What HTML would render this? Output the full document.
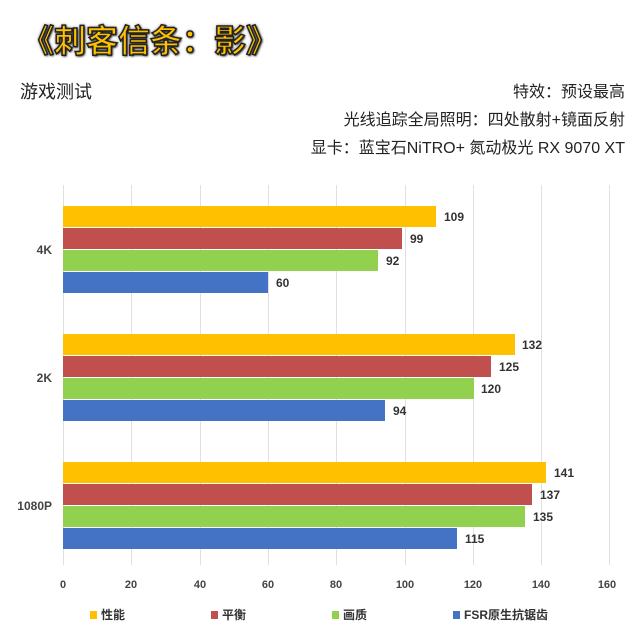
<!DOCTYPE html>
<html><head><meta charset="utf-8"><style>
body{margin:0;width:637px;height:636px;background:#fff;overflow:hidden;position:relative;font-family:"Liberation Sans","Noto Sans CJK SC",sans-serif;}
.a{position:absolute;white-space:nowrap}
.t{left:22px;top:16px;font-size:32px;font-weight:bold;color:#FFC000;-webkit-text-stroke:1.5px #222;text-shadow:0 0 3px #333,1px 1px 2px #000;letter-spacing:0px}
.s{font-size:16px;color:#222}
.r{right:12px;text-align:right}
.g{position:absolute;top:185px;height:380px;width:1px;background:#e0e0e0}
.b{position:absolute;left:63px;height:21px}
.v{position:absolute;font-size:12px;font-weight:bold;color:#333}
.tk{position:absolute;top:579px;font-size:11px;color:#444;font-weight:bold;width:30px;margin-left:-15px;text-align:center}
.cat{position:absolute;font-size:12px;font-weight:bold;color:#444;right:585px}
.lg{position:absolute;top:606px;font-size:12px;font-weight:bold;color:#333}
.lg i{display:inline-block;width:7px;height:8px;margin-right:4px;vertical-align:0}
</style></head><body>
<div class="a t">《刺客信条：影》</div>
<div class="a s" style="left:20px;top:78px;font-size:18px">游戏测试</div>
<div class="a s r" style="top:78px">特效：预设最高</div>
<div class="a s r" style="top:106px">光线追踪全局照明：四处散射+镜面反射</div>
<div class="a s r" style="top:134px">显卡：蓝宝石NiTRO+ 氮动极光 RX 9070 XT</div>
<div class="g" style="left:63px"></div><div class="g" style="left:131px"></div><div class="g" style="left:200px"></div><div class="g" style="left:268px"></div><div class="g" style="left:336px"></div><div class="g" style="left:405px"></div><div class="g" style="left:473px"></div><div class="g" style="left:541px"></div><div class="g" style="left:609px"></div>
<div class="tk" style="left:63px">0</div><div class="tk" style="left:131px">20</div><div class="tk" style="left:200px">40</div><div class="tk" style="left:268px">60</div><div class="tk" style="left:336px">80</div><div class="tk" style="left:405px">100</div><div class="tk" style="left:473px">120</div><div class="tk" style="left:541px">140</div><div class="tk" style="left:607px">160</div>
<div class="cat" style="top:243px">4K</div>
<div class="cat" style="top:371px">2K</div>
<div class="cat" style="top:499px">1080P</div>
<div class="b" style="top:206px;width:373px;background:#FFC000"></div><div class="v" style="top:210px;left:444px">109</div>
<div class="b" style="top:228px;width:339px;background:#C0504D"></div><div class="v" style="top:232px;left:410px">99</div>
<div class="b" style="top:250px;width:315px;background:#92D050"></div><div class="v" style="top:254px;left:386px">92</div>
<div class="b" style="top:272px;width:205px;background:#4472C4"></div><div class="v" style="top:276px;left:276px">60</div>
<div class="b" style="top:334px;width:452px;background:#FFC000"></div><div class="v" style="top:338px;left:522px">132</div>
<div class="b" style="top:356px;width:428px;background:#C0504D"></div><div class="v" style="top:360px;left:499px">125</div>
<div class="b" style="top:378px;width:411px;background:#92D050"></div><div class="v" style="top:382px;left:481px">120</div>
<div class="b" style="top:400px;width:322px;background:#4472C4"></div><div class="v" style="top:404px;left:393px">94</div>
<div class="b" style="top:462px;width:483px;background:#FFC000"></div><div class="v" style="top:466px;left:554px">141</div>
<div class="b" style="top:484px;width:469px;background:#C0504D"></div><div class="v" style="top:488px;left:540px">137</div>
<div class="b" style="top:506px;width:462px;background:#92D050"></div><div class="v" style="top:510px;left:533px">135</div>
<div class="b" style="top:528px;width:394px;background:#4472C4"></div><div class="v" style="top:532px;left:465px">115</div>
<div class="lg" style="left:90px"><i style="background:#FFC000"></i>性能</div>
<div class="lg" style="left:211px"><i style="background:#C0504D"></i>平衡</div>
<div class="lg" style="left:332px"><i style="background:#92D050"></i>画质</div>
<div class="lg" style="left:453px"><i style="background:#4472C4"></i>FSR原生抗锯齿</div>
</body></html>
